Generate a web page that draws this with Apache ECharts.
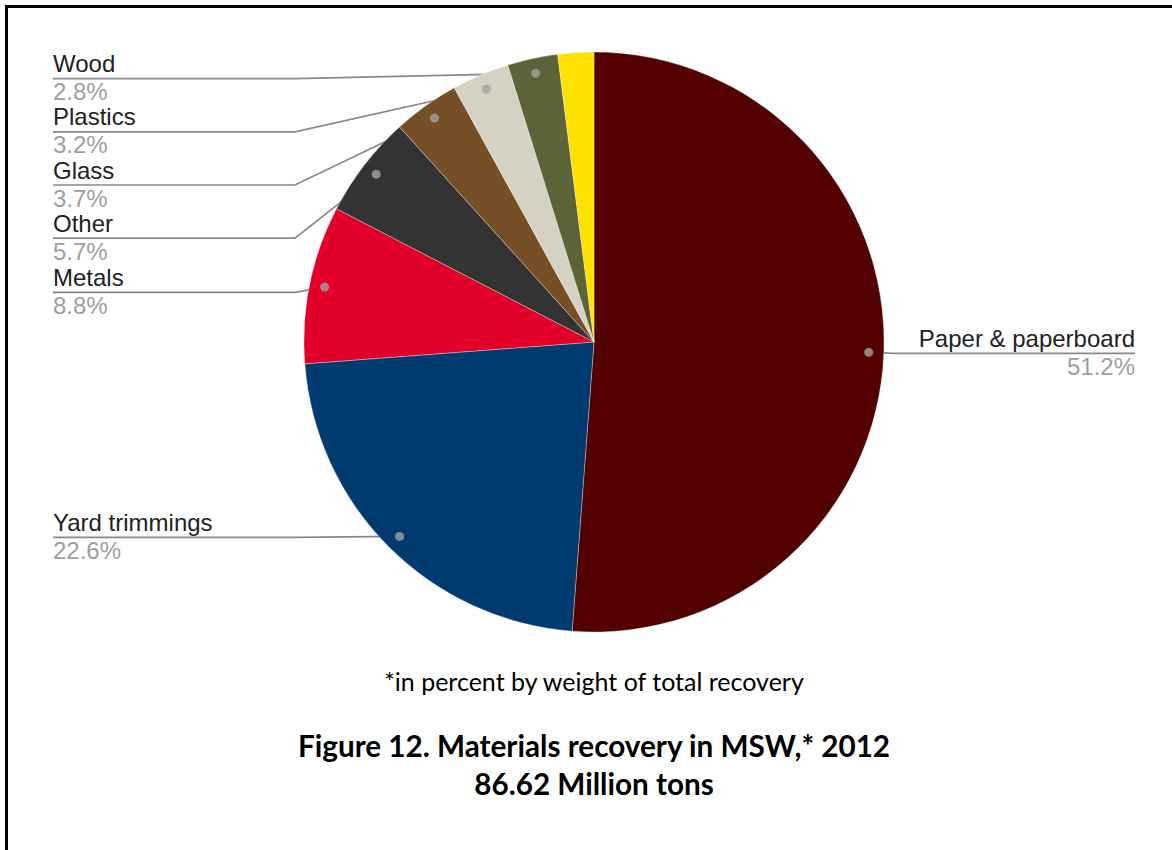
<!DOCTYPE html>
<html>
<head>
<meta charset="utf-8">
<script src="https://cdn.jsdelivr.net/npm/echarts@6/dist/echarts.min.js"></script>
<style>
  html, body { margin: 0; padding: 0; background: #fff; }
  #chart { position: absolute; left: 0; top: 0; width: 1172px; height: 850px; }
  #frame { position: absolute; left: 5px; top: 5px; width: 1167px; height: 845px;
           border-top: 3px solid #000; border-left: 3px solid #000; box-sizing: border-box;
           pointer-events: none; }
</style>
</head>
<body>
<div id="chart"></div>
<div id="frame"></div>
<script>
// ---- data ----
const categories = ['Paper & paperboard', 'Yard trimmings', 'Metals', 'Other', 'Glass', 'Plastics', 'Wood', 'Food'];
const values = [51.2, 22.6, 8.8, 5.7, 3.7, 3.2, 2.8, 2.0];
const showLabel = [true, true, true, true, true, true, true, false];
const sliceColors = ['#520000', '#003a6e', '#e2002b', '#333333', '#774f27', '#d5d2c3', '#5c6337', '#ffe100'];
const footnote = '*in percent by weight of total recovery';
const titleLines = ['Figure 12. Materials recovery in MSW,* 2012', '86.62 Million tons'];

// ---- layout constants ----
const CX = 594, CY = 342, R = 290;
const DOT_RATIO = 0.948;
const ELBOW_GAP = 9;
const TOP_BOUND = 51;

const chart = echarts.init(document.getElementById('chart'), null, { renderer: 'svg' });

const total = values.reduce((a, b) => a + b, 0);
const dotData = [];
let acc = 0;
values.forEach((v, i) => {
  const mid = acc + v / 2;
  acc += v;
  if (showLabel[i]) dotData.push([DOT_RATIO, mid / total * 100]);
});

const pieData = categories.map((c, i) => {
  const item = { name: c, value: values[i], itemStyle: { color: sliceColors[i] } };
  if (!showLabel[i]) {
    item.label = { show: false };
    item.labelLine = { show: false };
  } else if (i === 0) {
    item.label = { edgeDistance: 37 };
  }
  return item;
});

chart.setOption({
  animation: false,
  backgroundColor: '#ffffff',
  polar: { center: [CX, CY], radius: R },
  angleAxis: { type: 'value', min: 0, max: 100, startAngle: 90, clockwise: true, show: false },
  radiusAxis: { type: 'value', min: 0, max: 1, show: false },
  series: [
    {
      type: 'pie',
      left: 0, right: 0, top: TOP_BOUND, bottom: 0,
      center: [CX, CY - TOP_BOUND],
      radius: R,
      startAngle: 90,
      clockwise: true,
      avoidLabelOverlap: true,
      data: pieData,
      itemStyle: { borderColor: 'rgba(255,255,255,0.45)', borderWidth: 0.7 },
      label: {
        show: true,
        alignTo: 'edge',
        edgeDistance: 53,
        minMargin: 1.2,
        formatter: function (p) {
          return '{n|' + p.name + '}\n{p|' + p.value.toFixed(1) + '%}';
        },
        rich: {
          n: { fontSize: 24, lineHeight: 28, color: '#222222', fontFamily: 'Liberation Sans, Arial, sans-serif' },
          p: { fontSize: 24, lineHeight: 28, color: '#9e9e9e', fontFamily: 'Liberation Sans, Arial, sans-serif' }
        }
      },
      labelLine: {
        show: true,
        length: -15,
        length2: 0,
        lineStyle: { color: '#888888', width: 1.7 }
      },
      labelLayout: function (params) {
        if (!params.labelLinePoints) return;
        const pts = params.labelLinePoints;
        const r = params.labelRect;
        const isLeft = r.x + r.width / 2 < CX;
        const ly = r.y + r.height / 2 + 1;
        const dx = pts[0][0] - CX, dy = pts[0][1] - CY;
        const d = Math.hypot(dx, dy) || 1;
        const dot = [CX + dx / d * R * DOT_RATIO, CY + dy / d * R * DOT_RATIO];
        const elbowX = isLeft ? CX - R - ELBOW_GAP : CX + R + ELBOW_GAP;
        const endX = isLeft ? r.x : r.x + r.width;
        return { labelLinePoints: [dot, [elbowX, ly], [endX, ly]] };
      },
      emphasis: { disabled: true }
    },
    {
      type: 'scatter',
      coordinateSystem: 'polar',
      data: dotData,
      symbol: 'circle',
      symbolSize: 9,
      itemStyle: { color: '#a3a3a3' },
      z: 5,
      silent: true
    }
  ],
  graphic: [
    {
      type: 'text', x: CX, y: 681,
      style: { text: footnote, align: 'center', verticalAlign: 'middle', textAlign: 'center', textVerticalAlign: 'middle',
               fontSize: 25, fontFamily: 'Lato, Open Sans, sans-serif', fill: '#000' }
    },
    {
      type: 'text', x: CX, y: 745,
      style: { text: titleLines[0], align: 'center', verticalAlign: 'middle', textAlign: 'center', textVerticalAlign: 'middle',
               fontSize: 29.7, fontWeight: 'bold', fontFamily: 'Lato, Open Sans, sans-serif', fill: '#000' }
    },
    {
      type: 'text', x: CX, y: 783,
      style: { text: titleLines[1], align: 'center', verticalAlign: 'middle', textAlign: 'center', textVerticalAlign: 'middle',
               fontSize: 29.7, fontWeight: 'bold', fontFamily: 'Lato, Open Sans, sans-serif', fill: '#000' }
    }
  ]
});
</script>
</body>
</html>
